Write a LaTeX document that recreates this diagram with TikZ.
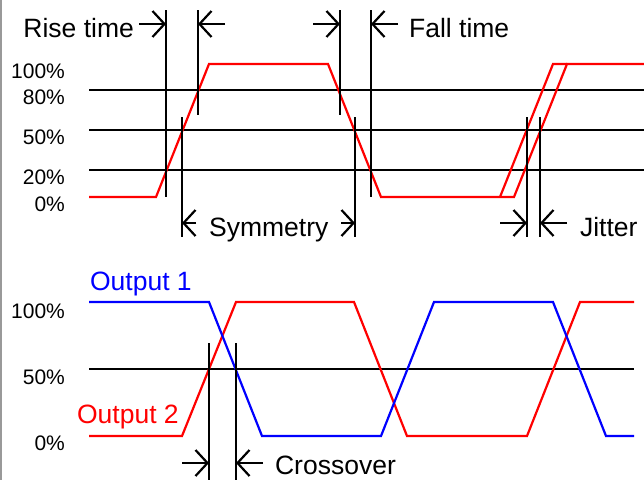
\documentclass[tikz,border=0pt]{standalone}
\usepackage{fontspec}
\setmainfont{Liberation Sans}
\usetikzlibrary{arrows.meta}
\begin{document}
\begin{tikzpicture}[x=1pt,y=-1pt,line width=2.2pt,
  lbl/.style={font=\fontsize{26.5}{30}\selectfont, inner sep=0pt},
  pct/.style={font=\fontsize{21}{24}\selectfont, inner sep=0pt, anchor=base east},
  dimarrow/.style={-{Straight Barb[length=12pt,width=26pt]}},
  redsig/.style={red, line join=miter},
  bluesig/.style={blue, line join=miter},
  mark/.style={black}
]
\useasboundingbox (0,0) rectangle (644,480);
\draw[gray!80, line width=2pt] (1,0) -- (1,480);

% ---------- top panel ----------
\foreach \y in {90,130,170} \draw (89,\y) -- (644,\y);
\node[pct] (p100) at (66,78) {100\%};
\node[pct] (p80) at (66,104) {80\%};
\node[pct] (p50) at (66,144) {50\%};
\node[pct] (p20) at (66,184) {20\%};
\node[pct] (p0) at (66,211) {0\%};

\draw[redsig] (89,197) -- (156,197) -- (209,64) -- (328,64) -- (381,197) -- (514,197) -- (567,64) -- (644,64);
\draw[redsig] (500,197) -- (553,64) -- (567,64);

% rise time
\draw (166,10) -- (166,197);
\draw (198,10) -- (198,115);
\node[lbl, anchor=base east] (rise) at (135,37) {Rise time};
\draw[dimarrow] (139,24) -- (166,24);
\draw[dimarrow] (225,24) -- (198,24);

% fall time
\draw (340,10) -- (340,115);
\draw (371,10) -- (371,197);
\node[lbl, anchor=base west] (fall) at (408,37) {Fall time};
\draw[dimarrow] (313,24) -- (340,24);
\draw[dimarrow] (398,24) -- (371,24);

% symmetry
\draw (182,117) -- (182,237);
\draw (355,117) -- (355,237);
\node[lbl, anchor=base west] (sym) at (208,236) {Symmetry};
\draw[dimarrow] (196,223) -- (182,223);
\draw[dimarrow] (341,223) -- (355,223);

% jitter
\draw (527,117) -- (527,237);
\draw (540,117) -- (540,237);
\node[lbl, anchor=base west] (jit) at (579,236) {Jitter};
\draw[dimarrow] (500,223) -- (527,223);
\draw[dimarrow] (567,223) -- (540,223);

% ---------- bottom panel ----------
\draw (89,369) -- (634,369);
\node[pct] (q100) at (66,318) {100\%};
\node[pct] (q50) at (66,384) {50\%};
\node[pct] (q0) at (66,450) {0\%};

\node[lbl, anchor=base west, blue] (o1) at (89,290) {Output 1};
\node[lbl, anchor=base west, red] (o2) at (76,423) {Output 2};

\draw[redsig] (89,436) -- (182,436) -- (236,302) -- (354,302) -- (407,436) -- (527,436) -- (580,302) -- (634,302);
\draw[bluesig] (89,302) -- (209,302) -- (262,436) -- (381,436) -- (434,302) -- (553,302) -- (606,436) -- (634,436);

% crossover
\draw (209,343) -- (209,480);
\draw (236,343) -- (236,480);
\node[lbl, anchor=base west] (cross) at (274,474) {Crossover};
\draw[dimarrow] (182,463) -- (209,463);
\draw[dimarrow] (263,463) -- (236,463);
\end{tikzpicture}
\end{document}
